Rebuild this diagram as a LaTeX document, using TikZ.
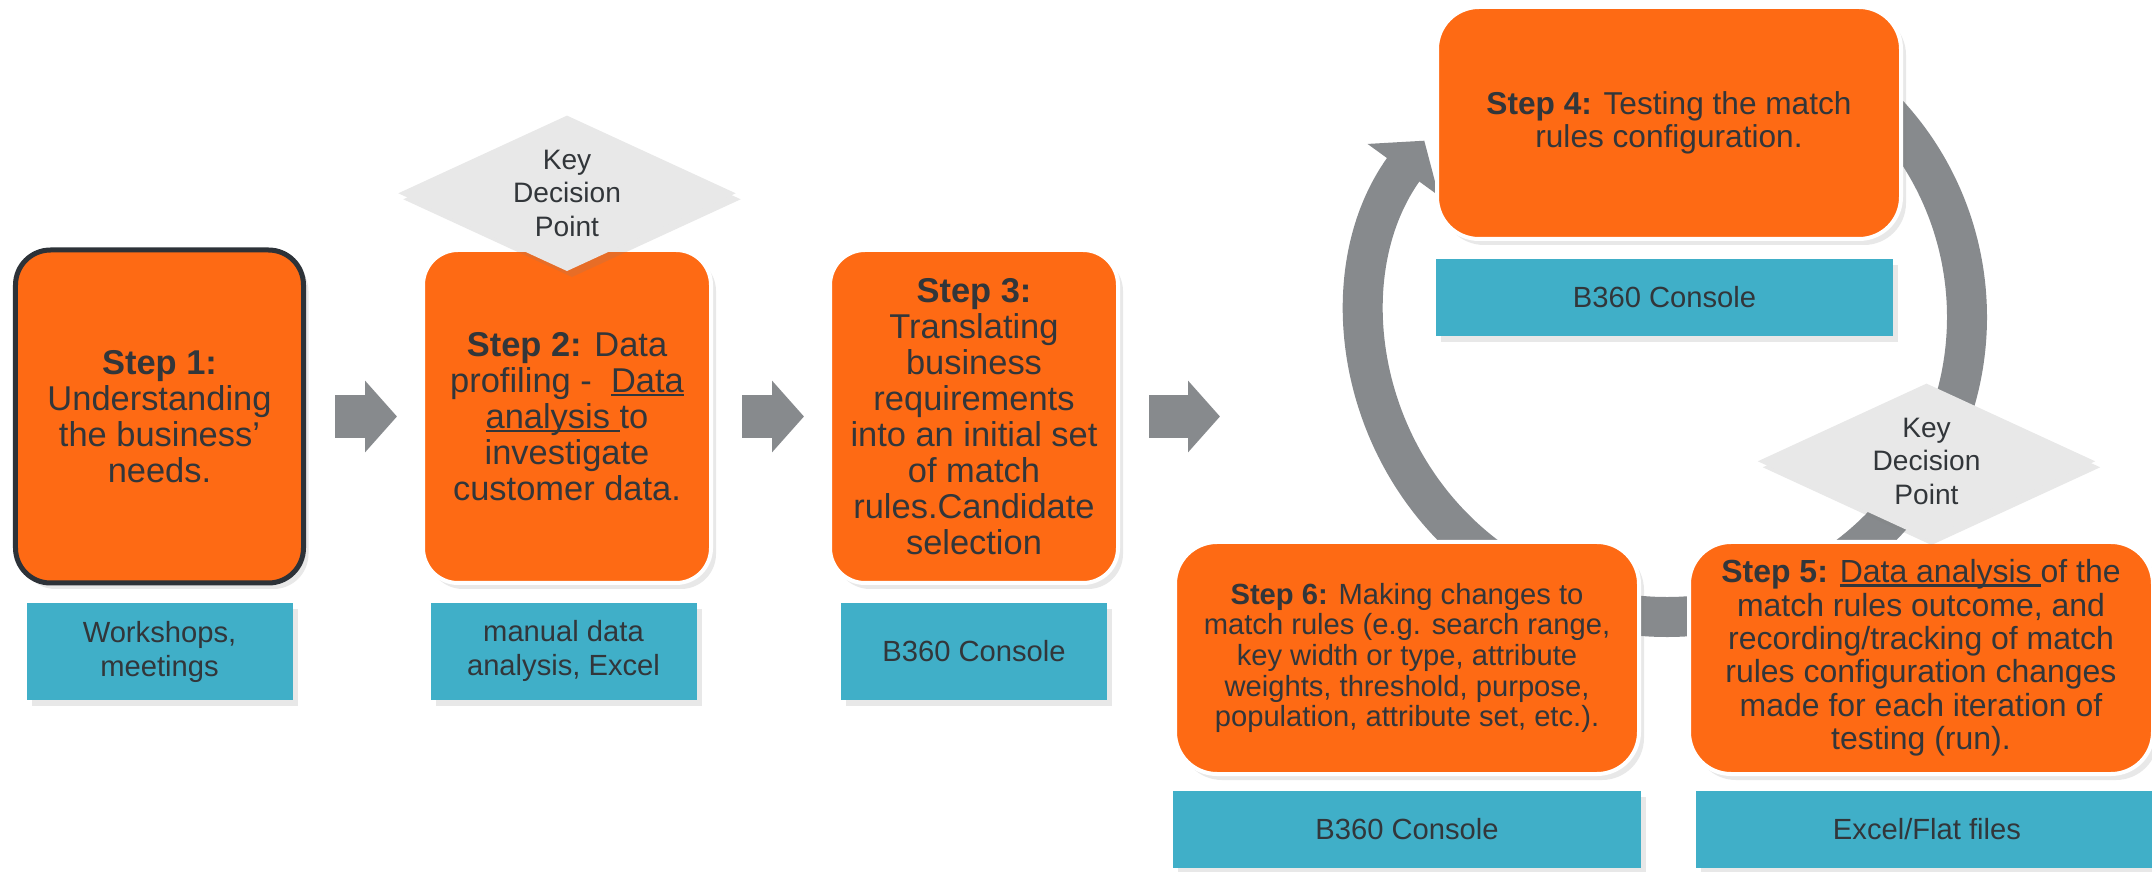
\documentclass[tikz,border=0pt]{standalone}
\usepackage{fontspec}
\setmainfont{Liberation Sans}
\usetikzlibrary{positioning}
\usetikzlibrary{arrows.meta}
\usetikzlibrary{shapes.geometric}
\usetikzlibrary{shadows}
\definecolor{org}{RGB}{254,106,20}
\definecolor{tool}{RGB}{64,175,200}
\definecolor{ink}{RGB}{50,54,58}
\definecolor{arr}{RGB}{135,138,141}
\definecolor{kdp}{RGB}{232,232,232}
\definecolor{edge}{RGB}{45,50,56}
\newcommand{\ulin}[1]{\setbox0=\hbox{#1}\rlap{\rule[-0.12em]{\wd0}{0.07em}}\box0}
\begin{document}
\begin{tikzpicture}[sh/.style={drop shadow={opacity=0.18, shadow xshift=0.05cm, shadow yshift=-0.06cm}},
    S/.style={draw=white, line width=0.04cm, fill=org, rounded corners=0.35cm, sh, text=ink, align=center, inner sep=0pt, minimum width=2.88cm, minimum height=3.33cm, font=\fontsize{9.8}{10.25}\selectfont},
    W/.style={S, rounded corners=0.42cm, minimum width=4.64cm, minimum height=2.32cm},
    T/.style={fill=tool, sh, text=ink, align=center, inner sep=0pt, minimum width=2.66cm, minimum height=0.97cm, font=\fontsize{8.3}{9.7}\selectfont},
    K/.style={diamond, aspect=2.2, fill=kdp, sh, text=ink, align=center, inner sep=0pt, minimum width=3.38cm, minimum height=1.56cm, font=\fontsize{8}{9.5}\selectfont},
    A/.style={draw=arr, line width=0.43cm, -{Triangle[length=0.32cm, width=0.70cm]}, shorten <=0.29cm},
    R/.style={draw=arr, line width=0.4cm, -{Triangle[length=0.36cm, width=0.86cm]}}]
    \useasboundingbox (0,0) rectangle (21.52,-8.72);
    \node[S, draw=edge, line width=0.05cm] (s1) at (1.595,-4.165) {\textbf{Step 1:}\\Understanding\\the business’\\needs.};
    \node[S, right=1.15cm of s1] (s2) {\textbf{Step 2:} Data\\profiling -\ \ \ulin{Data}\\\ulin{analysis\ }to\\investigate\\customer data.};
    \node[S, right=1.15cm of s2] (s3) {\textbf{Step 3:}\\Translating\\business\\requirements\\into an initial set\\of match\\rules.Candidate\\selection};
    \node[T, below=0.17cm of s1] (t1) {Workshops,\\meetings};
    \node[T, below=0.17cm of s2, xshift=-0.035cm] (t2) {manual data\\analysis, Excel};
    \node[T, below=0.17cm of s3] (t3) {B360 Console};
    \node[K, above=-0.24cm of s2] (k2) {Key\\Decision\\Point};
    \coordinate[right=1.0cm of s3] (c3);
    \draw[A, shorten >=0.24cm] (s1) -- (s2);
    \draw[A, shorten >=0.24cm] (s2) -- (s3);
    \draw[A] (s3) -- (c3);
    \coordinate (hub) at (16.67,-3.17);
    \draw[R] ([shift={(50:3cm)}]hub) arc[start angle=50, end angle=-216, radius=3cm];
    \node[W, font=\fontsize{9}{9.4}\selectfont] (s4) at (16.69,-1.23) {\textbf{Step 4:} Testing the match\\rules configuration.};
    \node[T, minimum width=4.57cm, minimum height=0.77cm, below=0.17cm of s4, xshift=-0.045cm] (t4) {B360 Console};
    \node[W, font=\fontsize{8.3}{8.7}\selectfont] (s6) at (14.07,-6.58) {\textbf{Step 6:} Making changes to\\match rules (e.g. search range,\\key width or type, attribute\\weights, threshold, purpose,\\population, attribute set, etc.).};
    \node[W, right=0.46cm of s6, font=\fontsize{9.1}{9.5}\selectfont] (s5) {\textbf{Step 5:} \ulin{Data analysis\ }of the\\match rules outcome, and\\recording/tracking of match\\rules configuration changes\\made for each iteration of\\testing (run).};
    \node[K, above=0cm of s5, xshift=0.055cm] (k5) {Key\\Decision\\Point};
    \node[T, minimum width=4.68cm, minimum height=0.77cm, below=0.14cm of s6] (t6) {B360 Console};
    \node[T, minimum width=4.62cm, minimum height=0.77cm, below=0.14cm of s5, xshift=0.06cm] (t5) {Excel/Flat files};
\end{tikzpicture}
\end{document}
